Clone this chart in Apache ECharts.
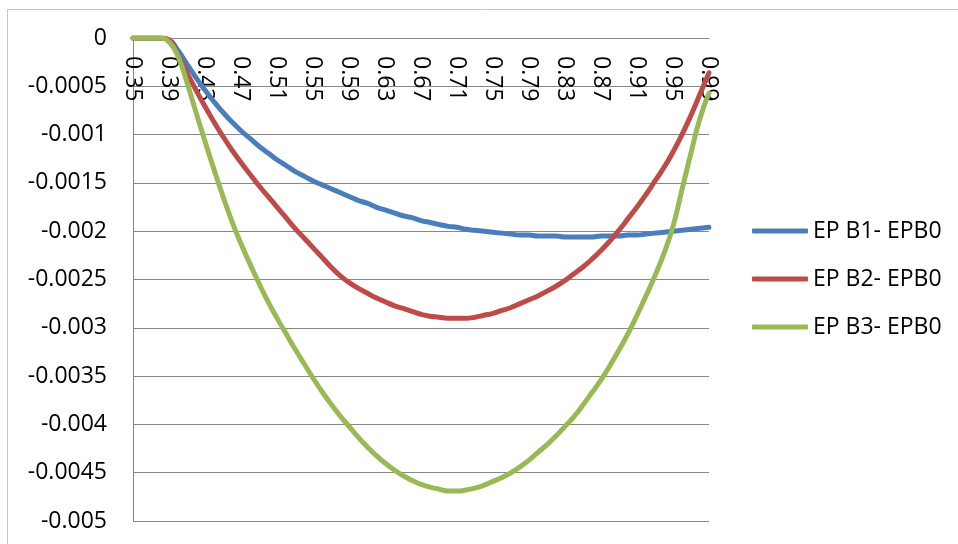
<!DOCTYPE html>
<html>
<head>
<meta charset="utf-8">
<script src="https://cdn.jsdelivr.net/npm/echarts@6/dist/echarts.min.js"></script>
<style>
  html, body { margin: 0; padding: 0; background: #fff; }
  #chart { width: 958px; height: 544px; }
</style>
</head>
<body>
<div id="chart"></div>
<script>
// x categories (0.35 .. 0.99 in steps of 0.01)
const categories = [
  '0.35','0.36','0.37','0.38','0.39','0.4','0.41','0.42','0.43','0.44',
  '0.45','0.46','0.47','0.48','0.49','0.5','0.51','0.52','0.53','0.54',
  '0.55','0.56','0.57','0.58','0.59','0.6','0.61','0.62','0.63','0.64',
  '0.65','0.66','0.67','0.68','0.69','0.7','0.71','0.72','0.73','0.74',
  '0.75','0.76','0.77','0.78','0.79','0.8','0.81','0.82','0.83','0.84',
  '0.85','0.86','0.87','0.88','0.89','0.9','0.91','0.92','0.93','0.94',
  '0.95','0.96','0.97','0.98','0.99'
];

const seriesNames = ['EP B1- EPB0', 'EP B2- EPB0', 'EP B3- EPB0'];

const epB1 = [
  0, 0, 0, 0, -0.00002, -0.00013, -0.00027, -0.00041, -0.00054, -0.00066,
  -0.00077, -0.00087, -0.00096, -0.00104, -0.00112, -0.00119, -0.00126, -0.00132, -0.00138, -0.00143,
  -0.00148, -0.00152, -0.00156, -0.0016, -0.00164, -0.00168, -0.00171, -0.00175, -0.00178, -0.00181,
  -0.00184, -0.00186, -0.00189, -0.00191, -0.00193, -0.00195, -0.00196, -0.00198, -0.00199, -0.002,
  -0.00201, -0.00202, -0.00203, -0.00204, -0.00204, -0.00205, -0.00205, -0.00205, -0.00206, -0.00206,
  -0.00206, -0.00206, -0.00205, -0.00205, -0.00205, -0.00204, -0.00204, -0.00203, -0.00202, -0.00201,
  -0.002, -0.00199, -0.00198, -0.00197, -0.00196
];

const epB2 = [
  0, 0, 0, 0, -0.00002, -0.00018, -0.00036, -0.00054, -0.00071, -0.00087,
  -0.00102, -0.00116, -0.00129, -0.00141, -0.00153, -0.00164, -0.00175, -0.00186, -0.00197, -0.00207,
  -0.00217, -0.00227, -0.00237, -0.00246, -0.00253, -0.00259, -0.00264, -0.00269, -0.00273, -0.00277,
  -0.0028, -0.00283, -0.00286, -0.00288, -0.00289, -0.0029, -0.0029, -0.0029, -0.00289, -0.00287,
  -0.00285, -0.00282, -0.00279, -0.00275, -0.00271, -0.00267, -0.00262, -0.00257, -0.00251, -0.00244,
  -0.00237, -0.00229, -0.0022, -0.0021, -0.00199, -0.00187, -0.00175, -0.00162, -0.00148, -0.00134,
  -0.00118, -0.001, -0.0008, -0.00058, -0.00036
];

const epB3 = [
  0, 0, 0, 0, -0.00004, -0.00019, -0.00046, -0.00077, -0.00107, -0.00136,
  -0.00164, -0.0019, -0.00213, -0.00234, -0.00254, -0.00273, -0.0029, -0.00306, -0.00322, -0.00337,
  -0.00352, -0.00366, -0.00379, -0.00391, -0.00402, -0.00413, -0.00423, -0.00432, -0.0044, -0.00447,
  -0.00453, -0.00458, -0.00462, -0.00465, -0.00467, -0.00469, -0.00469, -0.00468, -0.00466, -0.00463,
  -0.00459, -0.00455, -0.0045, -0.00444, -0.00437, -0.00429, -0.00421, -0.00412, -0.00402, -0.00392,
  -0.0038, -0.00367, -0.00354, -0.00339, -0.00323, -0.00306, -0.00287, -0.00267, -0.00246, -0.00223,
  -0.00195, -0.00157, -0.00119, -0.00083, -0.00057
];

const seriesColors = ['#4a7ebb', '#be4b48', '#98b954'];
const seriesValues = [epB1, epB2, epB3];

const FONT = 'Open Sans';
const chart = echarts.init(document.getElementById('chart'));

chart.setOption({
  animation: false,
  backgroundColor: '#ffffff',
  graphic: [{
    type: 'rect',
    shape: { x: 7.5, y: 9.5, width: 1000, height: 600 },
    style: { fill: 'none', stroke: '#c4c4c4', lineWidth: 1 },
    silent: true
  }],
  grid: {
    left: 133, top: 38, width: 576, height: 483,
    containLabel: false,
    outerBoundsMode: 'none'
  },
  legend: {
    orient: 'vertical',
    left: 747,
    top: 214,
    itemWidth: 56,
    itemHeight: 5,
    itemGap: 24,
    icon: 'roundRect',
    textStyle: { fontFamily: FONT, fontSize: 23, color: '#000', lineHeight: 24 },
    data: seriesNames
  },
  xAxis: {
    type: 'category',
    data: categories,
    boundaryGap: false,
    position: 'top',
    axisLine: { onZero: false, lineStyle: { color: '#878787', width: 1 } },
    axisTick: { show: false },
    axisLabel: {
      inside: true,
      interval: 3,
      rotate: 90,
      margin: 18,
      fontFamily: FONT,
      fontSize: 23,
      color: '#000'
    },
    splitLine: { show: false }
  },
  yAxis: {
    type: 'value',
    min: -0.005,
    max: 0,
    interval: 0.0005,
    axisLine: { show: true, lineStyle: { color: '#878787', width: 1 } },
    axisTick: { show: false },
    axisLabel: {
      margin: 26,
      fontFamily: FONT,
      fontSize: 23,
      color: '#000',
      formatter: v => String(parseFloat(v.toFixed(4)))
    },
    splitLine: { show: true, lineStyle: { color: '#878787', width: 1 } }
  },
  series: seriesNames.map((name, k) => ({
    name,
    type: 'line',
    data: seriesValues[k],
    smooth: 0.5,
    showSymbol: false,
    symbol: 'none',
    color: seriesColors[k],
    lineStyle: { width: 5, color: seriesColors[k], cap: 'round', join: 'round' },
    itemStyle: { color: seriesColors[k] },
    z: 3 + k
  }))
});
</script>
</body>
</html>
